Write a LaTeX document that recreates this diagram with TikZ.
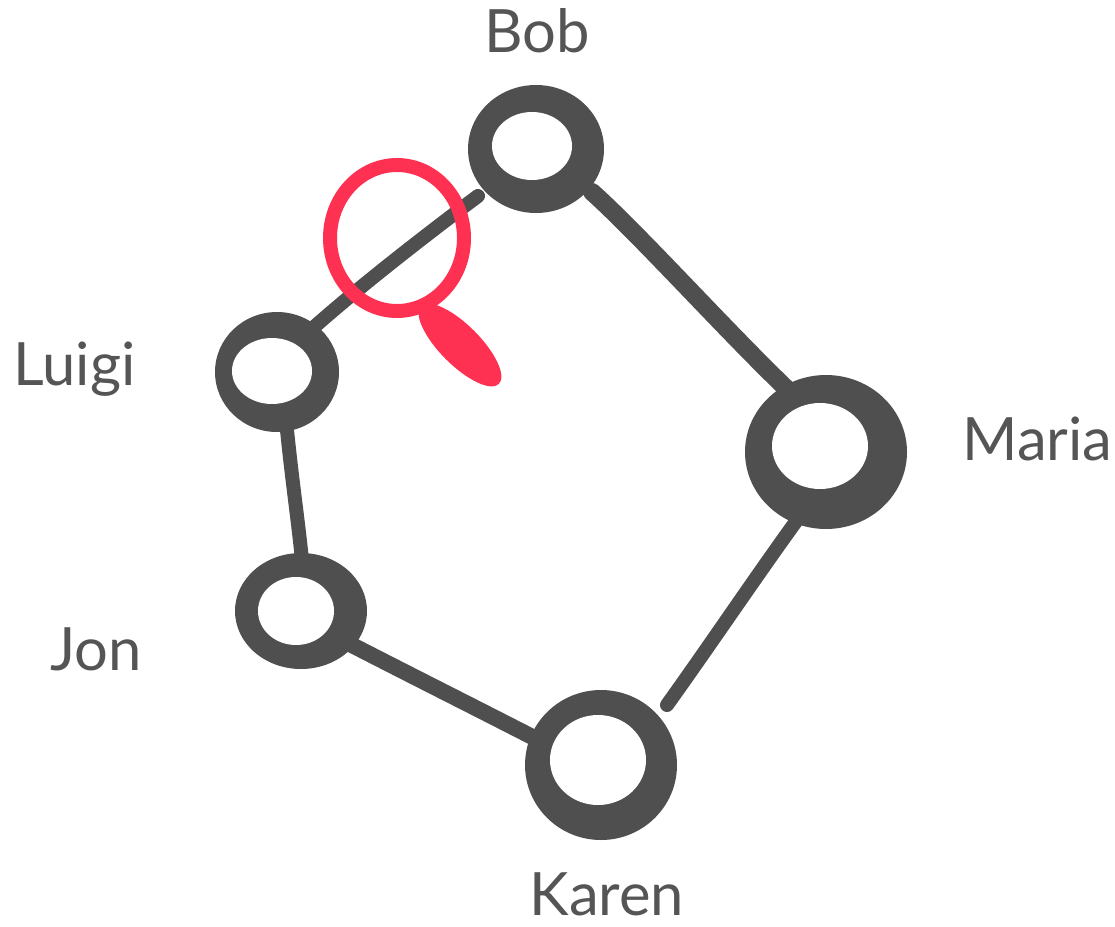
\documentclass[tikz,border=0pt]{standalone}
\usepackage{fontspec}
\setmainfont{Lato}
\definecolor{ink}{HTML}{4F4F4F}
\definecolor{txt}{HTML}{555555}
\definecolor{redmk}{HTML}{FF3152}
\begin{document}
\begin{tikzpicture}[x=0.02cm,y=-0.02cm,
  edge/.style={draw=ink,line cap=round,line join=round},
  lbl/.style={text=txt,font=\fontsize{34}{40}\selectfont,inner sep=0pt}]
\useasboundingbox (0,0) rectangle (1115,926);
% centres
\coordinate (bob) at (536,149);
\coordinate (luigi) at (277,372);
\coordinate (maria) at (826,452);
\coordinate (jon) at (301,611);
\coordinate (karen) at (601,765);
% edge end points
\coordinate (bobA) at (592,192);
\coordinate (mariaA) at (790,392);
\coordinate (bobB) at (478,196);
\coordinate (luigiB) at (313,328);
\coordinate (luigiC) at (287,430);
\coordinate (jonC) at (302,560);
\coordinate (jonD) at (348,643);
\coordinate (karenD) at (548,745);
\coordinate (karenE) at (667,705);
\coordinate (mariaE) at (797,520);
% edges
\draw[edge,line width=0.36cm] (bobA) .. controls (640,235) and (730,335) .. (mariaA);
\draw[edge,line width=0.28cm] (luigiB) .. controls (365,282) and (430,232) .. (bobB);
\draw[edge,line width=0.28cm] (luigiC) .. controls (292,480) and (298,520) .. (jonC);
\draw[edge,line width=0.32cm] (jonD) .. controls (420,680) and (480,710) .. (karenD);
\draw[edge,line width=0.28cm] (karenE) .. controls (710,645) and (755,578) .. (mariaE);
% rings
\fill[ink] (bob) ellipse [x radius=68, y radius=64];
\fill[white] (532,146) ellipse [x radius=40, y radius=34];
\fill[ink] (luigi) ellipse [x radius=62, y radius=60];
\fill[white] (272,371) ellipse [x radius=40, y radius=33];
\fill[ink] (maria) ellipse [x radius=81, y radius=77];
\fill[white] (820,446) ellipse [x radius=48, y radius=43];
\fill[ink] (jon) ellipse [x radius=66, y radius=58];
\fill[white] (296,611) ellipse [x radius=38, y radius=34];
\fill[ink] (karen) ellipse [x radius=76, y radius=75];
\fill[white] (598,760) ellipse [x radius=48, y radius=45];
% red marker
\draw[redmk,line width=0.28cm] (397,238) ellipse [x radius=67, y radius=73];
\fill[redmk,shift={(460,345)},rotate=-45] (0,0) ellipse [x radius=55, y radius=20];
% labels
\node[lbl,anchor=base] (tbob) at (537,53) {Bob};
\node[lbl,anchor=base west] (tluigi) at (13,385) {Luigi};
\node[lbl,anchor=base west] (tmaria) at (962,460) {Maria};
\node[lbl,anchor=base west] (tjon) at (50,670) {Jon};
\node[lbl,anchor=base] (tkaren) at (607,915) {Karen};
\end{tikzpicture}
\end{document}
